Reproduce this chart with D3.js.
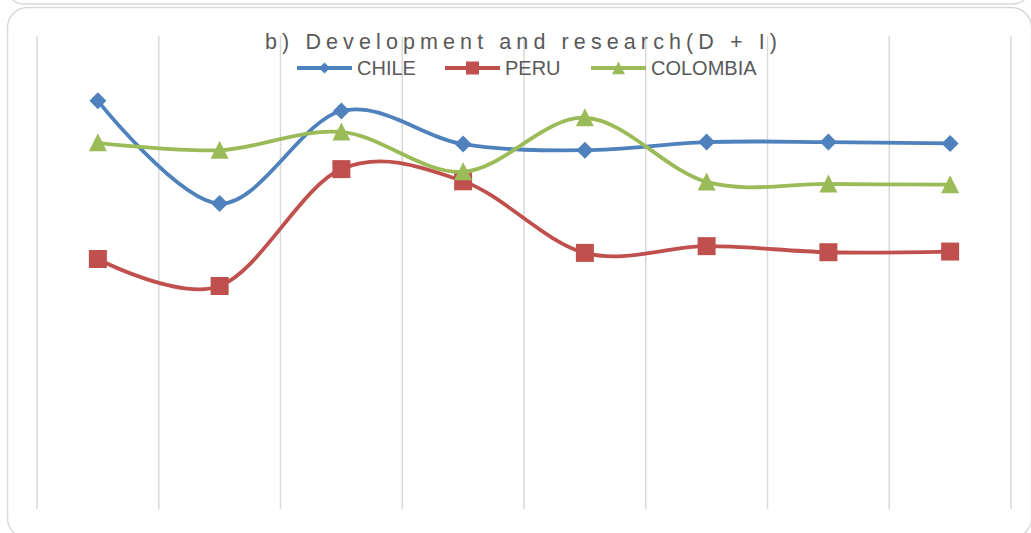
<!DOCTYPE html>
<html>
<head>
<meta charset="utf-8">
<script src="https://cdn.jsdelivr.net/npm/d3@7"></script>
<style>
  html, body { margin: 0; padding: 0; background: #fff; }
  svg { display: block; }
  text { font-family: "Liberation Sans", Arial, sans-serif; }
</style>
</head>
<body>
<svg id="chart" width="1031" height="533"></svg>
<script>
// Periods along the horizontal axis (no axis labels are shown)
const categories = ["P1", "P2", "P3", "P4", "P5", "P6", "P7", "P8"];

// Index values per country
const chile    = [6.04, 4.52, 5.89, 5.40, 5.31, 5.43, 5.43, 5.41];
const peru     = [3.70, 3.30, 5.03, 4.85, 3.79, 3.89, 3.80, 3.81];
const colombia = [5.42, 5.31, 5.58, 4.99, 5.79, 4.84, 4.81, 4.80];

const seriesNames = ["CHILE", "PERU", "COLOMBIA"];
const titleText = "b) Development and research(D + I)";

const series = [
  { name: seriesNames[0], values: chile,    color: "#4F81BD", marker: "diamond" },
  { name: seriesNames[1], values: peru,     color: "#C0504D", marker: "square" },
  { name: seriesNames[2], values: colombia, color: "#9BBB59", marker: "triangle" }
];

const svg = d3.select("#chart");
const plot = { left: 37, right: 1011, top: 36, bottom: 509 };

// Bottom edge of the panel above
svg.append("rect")
  .attr("x", 7.5).attr("y", -60).attr("width", 1022).attr("height", 64)
  .attr("rx", 16).attr("ry", 16)
  .attr("fill", "none").attr("stroke", "#d9d9d9").attr("stroke-width", 1.5);

// Chart panel
svg.append("rect")
  .attr("x", 7.5).attr("y", 7.5).attr("width", 1024).attr("height", 530.5)
  .attr("rx", 20).attr("ry", 20)
  .attr("fill", "#fff").attr("stroke", "#d9d9d9").attr("stroke-width", 1.5);

const x = d3.scaleBand().domain(categories).range([plot.left, plot.right]).padding(0);
const y = d3.scaleLinear().domain([0, 7]).range([plot.bottom, plot.top]);
const cx = c => x(c) + x.bandwidth() / 2;

// Vertical gridlines at category boundaries
const gridX = categories.map(c => x(c)).concat([plot.right]);
svg.append("g").selectAll("line").data(gridX).join("line")
  .attr("x1", d => d).attr("x2", d => d)
  .attr("y1", plot.top).attr("y2", plot.bottom)
  .attr("stroke", "#d9d9d9").attr("stroke-width", 1.5);

// Marker shapes centred on (0,0)
function markerPath(type, s) {
  const p = d3.path();
  const h = s / 2;
  if (type === "diamond") {
    p.moveTo(0, -h); p.lineTo(h, 0); p.lineTo(0, h); p.lineTo(-h, 0); p.closePath();
  } else if (type === "square") {
    p.rect(-h, -h, s, s);
  } else {
    p.moveTo(0, -h * 1.05); p.lineTo(h, h * 0.95); p.lineTo(-h, h * 0.95); p.closePath();
  }
  return p.toString();
}
const markerSize = { diamond: 17, square: 18, triangle: 18 };
const legendMarkerSize = { diamond: 11, square: 13, triangle: 13 };

const line = d3.line()
  .x((d, i) => cx(categories[i]))
  .y(d => y(d))
  .curve(d3.curveCardinal.tension(0));

const gSeries = svg.append("g");
series.forEach(s => {
  const g = gSeries.append("g");
  g.append("path")
    .attr("d", line(s.values))
    .attr("fill", "none")
    .attr("stroke", s.color)
    .attr("stroke-width", 3.8)
    .attr("stroke-linejoin", "round")
    .attr("stroke-linecap", "round");
  g.selectAll("path.m").data(s.values).join("path")
    .attr("class", "m")
    .attr("transform", (d, i) => `translate(${cx(categories[i])},${y(d)})`)
    .attr("d", markerPath(s.marker, markerSize[s.marker]))
    .attr("fill", s.color);
});

// Title
svg.append("text")
  .attr("x", 521).attr("y", 49)
  .attr("text-anchor", "middle")
  .attr("font-size", 21.5)
  .attr("fill", "#595959")
  .attr("textLength", 512)
  .attr("lengthAdjust", "spacing")
  .text(titleText);

// Legend
const legendItems = [
  { x: 297, s: series[0] },
  { x: 445, s: series[1] },
  { x: 591, s: series[2] }
];
const legY = 68;
const lg = svg.append("g");
legendItems.forEach(it => {
  const g = lg.append("g").attr("transform", `translate(${it.x},${legY})`);
  g.append("line")
    .attr("x1", 0).attr("x2", 55).attr("y1", 0).attr("y2", 0)
    .attr("stroke", it.s.color).attr("stroke-width", 3.8);
  g.append("path")
    .attr("transform", "translate(27.5,0)")
    .attr("d", markerPath(it.s.marker, legendMarkerSize[it.s.marker]))
    .attr("fill", it.s.color);
  g.append("text")
    .attr("x", 60).attr("y", 7)
    .attr("font-size", 20)
    .attr("fill", "#595959")
    .text(it.s.name);
});
</script>
</body>
</html>
